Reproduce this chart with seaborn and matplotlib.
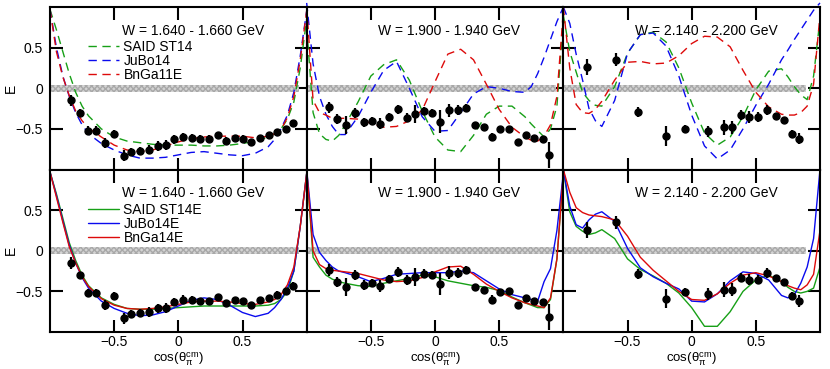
import matplotlib
matplotlib.use('Agg')
import matplotlib.pyplot as plt
import seaborn as sns

COS_GRID = [-1.0, -0.95, -0.9, -0.85, -0.8, -0.75, -0.7, -0.6, -0.5, -0.4, -0.3, -0.2, -0.1, 0.0,
            0.1, 0.2, 0.3, 0.4, 0.5, 0.6, 0.7, 0.75, 0.8, 0.85, 0.9, 0.95, 1.0]

W_LABELS = ['W = 1.640 - 1.660 GeV', 'W = 1.900 - 1.940 GeV', 'W = 2.140 - 2.200 GeV']
TOP_NAMES = ['SAID ST14', 'JuBo14', 'BnGa11E']
BOT_NAMES = ['SAID ST14E', 'JuBo14E', 'BnGa14E']
TICKS = [-0.5, 0, 0.5]
TICK_LABELS = ['\u22120.5', '0', '0.5']

# measured E, W = 1.640 - 1.660
DATA1_X = [-0.84, -0.77, -0.705, -0.64, -0.57, -0.50, -0.42, -0.365, -0.30, -0.23, -0.16, -0.10, -0.03, 0.04,
           0.11, 0.17, 0.24, 0.31, 0.37, 0.44, 0.505, 0.57, 0.635, 0.705, 0.77, 0.84, 0.895]
DATA1_E = [-0.15, -0.30, -0.52, -0.52, -0.67, -0.56, -0.83, -0.78, -0.77, -0.755, -0.71, -0.70, -0.63, -0.60,
           -0.61, -0.62, -0.62, -0.575, -0.645, -0.61, -0.62, -0.665, -0.61, -0.58, -0.54, -0.50, -0.43]
DATA1_ERR = [0.07, 0.04, 0.05, 0.05, 0.06, 0.05, 0.07, 0.05, 0.05, 0.06, 0.06, 0.06, 0.05, 0.05,
             0.05, 0.04, 0.04, 0.04, 0.04, 0.04, 0.04, 0.04, 0.04, 0.04, 0.04, 0.04, 0.04]

# measured E, W = 1.900 - 1.940
DATA2_X = [-0.826, -0.76, -0.695, -0.625, -0.555, -0.49, -0.43, -0.36, -0.285, -0.22, -0.155, -0.087, -0.025,
           0.04, 0.11, 0.18, 0.24, 0.31, 0.38, 0.445, 0.51, 0.58, 0.645, 0.71, 0.775, 0.845, 0.885]
DATA2_E = [-0.235, -0.38, -0.45, -0.30, -0.42, -0.40, -0.435, -0.35, -0.26, -0.36, -0.32, -0.28, -0.30,
           -0.41, -0.27, -0.27, -0.24, -0.45, -0.48, -0.60, -0.505, -0.50, -0.665, -0.58, -0.615, -0.625, -0.82]
DATA2_ERR = [0.07, 0.06, 0.11, 0.06, 0.06, 0.05, 0.07, 0.05, 0.06, 0.06, 0.11, 0.05, 0.05,
             0.14, 0.08, 0.06, 0.05, 0.04, 0.03, 0.05, 0.03, 0.03, 0.03, 0.03, 0.03, 0.03, 0.16]

# measured E, W = 2.140 - 2.200
DATA3_X = [-0.817, -0.59, -0.42, -0.20, -0.05, 0.13, 0.25, 0.315, 0.385, 0.45, 0.52, 0.585, 0.655, 0.72, 0.785, 0.84]
DATA3_E = [0.26, 0.35, -0.29, -0.59, -0.505, -0.53, -0.48, -0.48, -0.33, -0.355, -0.355, -0.27, -0.34, -0.39, -0.56, -0.62]
DATA3_ERR = [0.10, 0.08, 0.06, 0.12, 0.05, 0.07, 0.09, 0.08, 0.06, 0.07, 0.06, 0.06, 0.04, 0.04, 0.05, 0.07]

# systematic band: upper end in cos(theta) and half height
BAND_XMAX = [0.94, 0.94, 0.89]
BAND_HALF = 0.042

# old PWA predictions (dashed, top row)
SAID14_W1 = [0.97, 0.72, 0.45, 0.18, -0.05, -0.22, -0.34, -0.50, -0.60, -0.65, -0.67, -0.69, -0.70, -0.70,
             -0.70, -0.71, -0.71, -0.70, -0.68, -0.65, -0.60, -0.56, -0.50, -0.38, -0.17, 0.25, 0.85]
JUBO14_W1 = [0.97, 0.50, 0.15, -0.10, -0.30, -0.45, -0.56, -0.68, -0.76, -0.82, -0.86, -0.86, -0.85, -0.82,
             -0.79, -0.78, -0.80, -0.82, -0.83, -0.80, -0.72, -0.63, -0.50, -0.33, -0.05, 0.40, 0.95]
BNGA11_W1 = [0.97, 0.45, 0.14, -0.09, -0.28, -0.40, -0.49, -0.60, -0.70, -0.76, -0.78, -0.76, -0.71, -0.66,
             -0.62, -0.60, -0.59, -0.59, -0.59, -0.61, -0.59, -0.56, -0.51, -0.36, -0.10, 0.35, 0.95]

SAID14_W2 = [0.75, -0.30, -0.56, -0.63, -0.65, -0.58, -0.45, -0.17, 0.15, 0.29, 0.35, 0.10, -0.28, -0.60,
             -0.76, -0.78, -0.58, -0.32, -0.22, -0.22, -0.35, -0.44, -0.52, -0.60, -0.50, -0.22, 0.85]
JUBO14_W2 = [1.05, 0.30, -0.10, -0.32, -0.47, -0.57, -0.57, -0.35, -0.05, 0.22, 0.33, 0.00, -0.35, -0.53,
             -0.52, -0.30, -0.07, 0.02, 0.00, -0.04, -0.05, 0.02, 0.18, 0.38, 0.60, 0.82, 1.00]
BNGA11_W2 = [1.00, -0.15, -0.30, -0.33, -0.37, -0.37, -0.37, -0.38, -0.43, -0.48, -0.47, -0.40, -0.27, 0.08,
             0.42, 0.48, 0.35, 0.05, -0.26, -0.48, -0.60, -0.64, -0.65, -0.59, -0.45, -0.10, 0.95]

SAID14_W3 = [0.90, 0.45, 0.20, -0.05, -0.15, -0.21, -0.22, 0.02, 0.43, 0.66, 0.69, 0.57, 0.25, -0.18,
             -0.55, -0.70, -0.60, -0.35, -0.02, 0.21, 0.24, 0.14, 0.02, -0.08, -0.14, 0.15, 0.85]
JUBO14_W3 = [1.00, 0.80, 0.42, 0.10, -0.25, -0.40, -0.47, -0.15, 0.43, 0.66, 0.68, 0.52, 0.15, -0.33,
             -0.71, -0.87, -0.76, -0.50, -0.21, 0.05, 0.35, 0.47, 0.60, 0.72, 0.84, 0.96, 1.05]
BNGA11_W3 = [1.00, 0.25, -0.20, -0.30, -0.31, -0.26, -0.16, 0.10, 0.32, 0.33, 0.30, 0.31, 0.40, 0.55,
             0.64, 0.63, 0.51, 0.22, -0.05, -0.23, -0.32, -0.33, -0.33, -0.30, -0.22, 0.05, 0.90]

# new fits including E data (solid, bottom row)
SAID14E_W1 = [0.97, 0.70, 0.40, 0.10, -0.12, -0.30, -0.43, -0.58, -0.66, -0.71, -0.72, -0.72, -0.71, -0.70,
              -0.69, -0.68, -0.68, -0.68, -0.68, -0.68, -0.67, -0.65, -0.60, -0.50, -0.25, 0.30, 0.95]
JUBO14E_W1 = [0.97, 0.68, 0.37, 0.07, -0.15, -0.33, -0.46, -0.62, -0.71, -0.77, -0.80, -0.79, -0.75, -0.68,
              -0.61, -0.58, -0.60, -0.67, -0.76, -0.81, -0.77, -0.70, -0.60, -0.46, -0.25, 0.30, 0.95]
BNGA14E_W1 = [0.97, 0.66, 0.35, 0.05, -0.15, -0.32, -0.44, -0.59, -0.67, -0.71, -0.72, -0.71, -0.69, -0.66,
              -0.63, -0.62, -0.62, -0.63, -0.65, -0.66, -0.63, -0.60, -0.54, -0.42, -0.20, 0.30, 0.95]

SAID14E_W2 = [1.00, -0.08, -0.20, -0.30, -0.35, -0.38, -0.40, -0.43, -0.44, -0.40, -0.37, -0.34, -0.30, -0.32,
              -0.37, -0.40, -0.43, -0.45, -0.49, -0.57, -0.64, -0.67, -0.70, -0.70, -0.60, -0.10, 0.95]
JUBO14E_W2 = [1.00, 0.20, -0.02, -0.12, -0.20, -0.25, -0.27, -0.32, -0.38, -0.34, -0.29, -0.28, -0.27, -0.27,
              -0.27, -0.25, -0.27, -0.37, -0.47, -0.54, -0.58, -0.60, -0.62, -0.38, -0.22, 0.25, 0.95]
BNGA14E_W2 = [1.00, 0.00, -0.17, -0.22, -0.24, -0.25, -0.26, -0.28, -0.32, -0.36, -0.38, -0.37, -0.33, -0.26,
              -0.20, -0.19, -0.29, -0.41, -0.50, -0.58, -0.64, -0.66, -0.68, -0.70, -0.58, -0.10, 0.95]

SAID14E_W3 = [1.00, 0.48, 0.30, 0.24, 0.20, 0.22, 0.26, 0.15, -0.10, -0.23, -0.31, -0.40, -0.52, -0.70,
              -0.93, -0.93, -0.75, -0.50, -0.36, -0.30, -0.38, -0.45, -0.50, -0.52, -0.50, -0.46, -0.20]
JUBO14E_W3 = [1.00, 0.55, 0.32, 0.28, 0.38, 0.45, 0.48, 0.36, 0.03, -0.21, -0.32, -0.40, -0.47, -0.62,
              -0.63, -0.53, -0.37, -0.26, -0.28, -0.36, -0.55, -0.58, -0.54, -0.40, -0.20, 0.15, 1.00]
BNGA14E_W3 = [1.00, 0.72, 0.53, 0.47, 0.44, 0.43, 0.42, 0.38, 0.18, -0.08, -0.24, -0.37, -0.50, -0.60,
              -0.61, -0.53, -0.40, -0.30, -0.27, -0.31, -0.38, -0.43, -0.46, -0.48, -0.42, -0.29, 0.25]

COLORS = ['#17a017', '#0a0aee', '#dd0a0a']

sns.set_style('ticks')
plt.rcParams['font.family'] = ['Liberation Sans', 'DejaVu Sans']
plt.rcParams['mathtext.fontset'] = 'custom'
plt.rcParams['mathtext.rm'] = 'Liberation Sans'
plt.rcParams['mathtext.it'] = 'Liberation Sans:italic'
plt.rcParams['font.size'] = 10
for key in ['axes.edgecolor', 'xtick.color', 'ytick.color', 'text.color', 'axes.labelcolor']:
    plt.rcParams[key] = 'black'

fig, axes = plt.subplots(2, 3, figsize=(8.3, 3.69), dpi=100, sharex=True, sharey=True)
fig.subplots_adjust(left=50/830, right=820/830, top=1-7/369, bottom=1-332/369, wspace=0, hspace=0)

data_sets = [(DATA1_X, DATA1_E, DATA1_ERR), (DATA2_X, DATA2_E, DATA2_ERR), (DATA3_X, DATA3_E, DATA3_ERR)]
top_curves = [(SAID14_W1, JUBO14_W1, BNGA11_W1), (SAID14_W2, JUBO14_W2, BNGA11_W2), (SAID14_W3, JUBO14_W3, BNGA11_W3)]
bot_curves = [(SAID14E_W1, JUBO14E_W1, BNGA14E_W1), (SAID14E_W2, JUBO14E_W2, BNGA14E_W2),
              (SAID14E_W3, JUBO14E_W3, BNGA14E_W3)]

for row in range(2):
    for col in range(3):
        ax = axes[row, col]
        curves = top_curves[col] if row == 0 else bot_curves[col]
        names = TOP_NAMES if row == 0 else BOT_NAMES
        ls = (0, (6, 4)) if row == 0 else '-'

        # systematic error band around zero
        ax.fill_between([-1.0, BAND_XMAX[col]], [-BAND_HALF, -BAND_HALF], [BAND_HALF, BAND_HALF],
                        facecolor='#d4d4d4', edgecolor='#a8a8a8', hatch='xxxxxx', linewidth=0, zorder=1)

        handles = []
        for vals, name, c in zip(curves, names, COLORS):
            sns.lineplot(x=COS_GRID, y=vals, ax=ax, color=c, linestyle=ls, linewidth=1.0,
                         clip_on=False, zorder=2, legend=False)
            handles.append(ax.lines[-1])

        x, e, err = data_sets[col]
        ax.errorbar(x, e, yerr=err, fmt='o', color='black', ms=5, elinewidth=1.6, capsize=0, zorder=4)

        ax.text(0.556, 0.855, W_LABELS[col], transform=ax.transAxes, ha='center', va='center', fontsize=10)

        if col == 0:
            ax.legend(handles, names, loc='upper left', bbox_to_anchor=(0.148, 0.795), frameon=False,
                      handlelength=2.2, handletextpad=0.35, borderpad=0, borderaxespad=0,
                      labelspacing=0.0, fontsize=10)
            ax.set_ylabel('E')
            ax.yaxis.set_label_coords(-0.125, 0.5)
        if row == 1:
            ax.set_xlabel(r'cos($\mathrm{\theta_{\pi}^{cm}}$)', fontsize=9.5)
            ax.xaxis.set_label_coords(0.5, -0.112)

        ax.set_xlim(-1, 1)
        ax.set_ylim(-1, 1)
        ax.set_xticks(TICKS)
        ax.set_yticks(TICKS)
        ax.set_xticklabels(TICK_LABELS)
        ax.set_yticklabels(TICK_LABELS)
        ax.tick_params(direction='in', length=9, width=1.5, top=True, right=True, pad=5,
                       labelleft=(col == 0), labelbottom=(row == 1))
        ax.tick_params(axis='x', pad=2)
        for sp in ax.spines.values():
            sp.set_linewidth(1.5)
            sp.set_zorder(5)

fig.savefig('out.png', dpi=100)
